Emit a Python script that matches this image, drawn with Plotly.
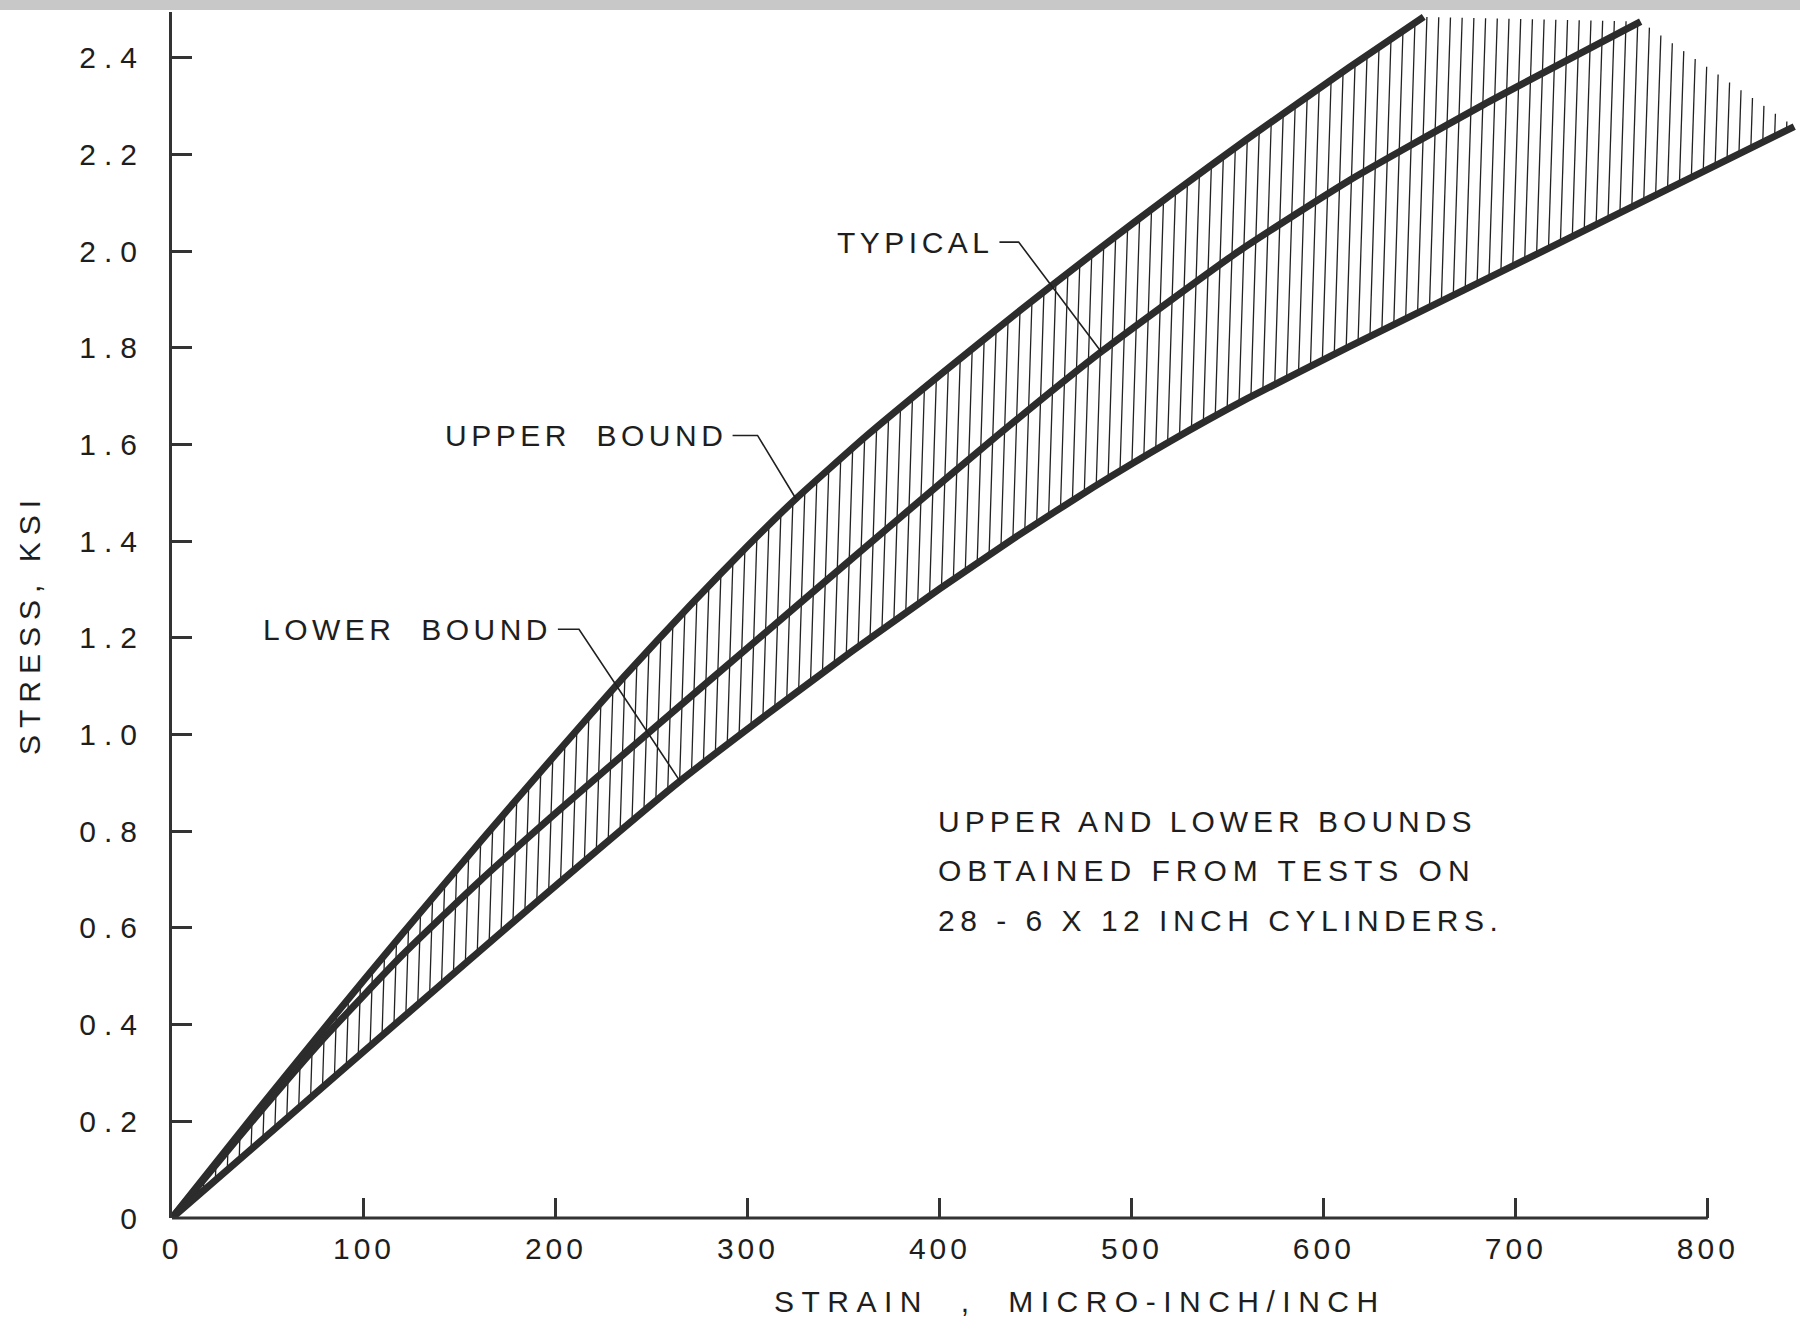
import numpy as np
import plotly.graph_objects as go

# ---------------- data ----------------
upper_x = [0, 40, 80, 120, 163, 200, 235, 270, 300, 325, 362, 400, 440, 480, 520, 560, 613, 652]
upper_y = [0, 0.2, 0.396, 0.588, 0.79, 0.96, 1.118, 1.268, 1.391, 1.488, 1.619, 1.744,
           1.872, 1.996, 2.116, 2.232, 2.38, 2.485]

typical_x = [0, 40, 80, 120, 160, 200, 250, 300, 378, 430, 484, 556, 613, 683, 765]
typical_y = [0, 0.192, 0.376, 0.544, 0.696, 0.838, 1.01, 1.18, 1.445, 1.619, 1.792,
             2.001, 2.146, 2.303, 2.475]

lower_x = [0, 58, 116, 190, 264, 310, 354, 400, 440, 480, 520, 560, 613, 718, 787, 845]
lower_y = [0, 0.2, 0.4, 0.654, 0.902, 1.042, 1.172, 1.302, 1.41, 1.512, 1.607, 1.695,
           1.802, 2.008, 2.144, 2.258]

x_tick_vals = [0, 100, 200, 300, 400, 500, 600, 700, 800]
x_tick_labels = ["0", "100", "200", "300", "400", "500", "600", "700", "800"]
y_tick_vals = [0, 0.2, 0.4, 0.6, 0.8, 1.0, 1.2, 1.4, 1.6, 1.8, 2.0, 2.2, 2.4]
y_tick_labels = ["0", "0.2", "0.4", "0.6", "0.8", "1.0", "1.2", "1.4", "1.6", "1.8", "2.0", "2.2", "2.4"]

# label anchors (data coords): text right edge, text centre y, leader knee x, leader target x
typical_label = dict(text="TYPICAL", x=429, y=2.019, knee=441, target=484)
upper_label = dict(text="UPPER  BOUND", x=290, y=1.619, knee=305, target=325)
lower_label = dict(text="LOWER  BOUND", x=199, y=1.218, knee=212, target=264.6)

note_lines = ["UPPER AND LOWER BOUNDS",
              "OBTAINED FROM TESTS ON",
              "28 - 6 X 12 INCH CYLINDERS."]
note_spacing = [5, 6, 5.5]

# ---------------- style ----------------
W, H = 1800, 1320
L, R, T, B = 172, 0, 12, 102
FONT = "Liberation Sans, Arial, sans-serif"
FS = 30
INK = "#1e1e1e"
CURVE = "#2c2c2c"


def spaced(s, ls):
    return f'<span style="letter-spacing:{ls}px">{s}</span>'


def paper_x(px):
    return (px - L) / (W - L - R)


def paper_y(py):
    return (H - B - py) / (H - T - B)


fig = go.Figure()

# ---------------- hatching between upper and lower bounds ----------------
top_env_x = upper_x + [typical_x[-1], lower_x[-1]]
top_env_y = upper_y + [typical_y[-1], lower_y[-1]]
hatch_step = 6.2
tilt = 0.032 * (483.4 / 1.92)   # slight lean of the pen strokes
hx, hy = [], []
for xb in np.arange(4.0, lower_x[-1] - 2, hatch_step):
    yb = float(np.interp(xb, lower_x, lower_y))
    yt0 = float(np.interp(xb, top_env_x, top_env_y))
    xt = xb + tilt * (yt0 - yb)
    yt = float(np.interp(xt, top_env_x, top_env_y))
    if yt - yb < 0.01:
        continue
    hx += [xb, xt, None]
    hy += [yb, yt, None]

fig.add_trace(go.Scatter(x=hx, y=hy, mode="lines",
                         line=dict(color="#222222", width=1.3),
                         hoverinfo="skip", showlegend=False))

# ---------------- the three curves ----------------
for xs, ys, name in [(upper_x, upper_y, "Upper bound"),
                     (typical_x, typical_y, "Typical"),
                     (lower_x, lower_y, "Lower bound")]:
    fig.add_trace(go.Scatter(x=xs, y=ys, mode="lines", name=name,
                             line=dict(color=CURVE, width=7, shape="spline", smoothing=0.5),
                             showlegend=False))

# ---------------- leader lines and labels ----------------
for lab, cx, cy in [(typical_label, typical_x, typical_y),
                    (upper_label, upper_x, upper_y),
                    (lower_label, lower_x, lower_y)]:
    ty = float(np.interp(lab["target"], cx, cy))
    fig.add_trace(go.Scatter(x=[lab["x"] + 2, lab["knee"], lab["target"]],
                             y=[lab["y"], lab["y"], ty], mode="lines",
                             line=dict(color="#202020", width=1.6),
                             hoverinfo="skip", showlegend=False))
    fig.add_annotation(x=lab["x"], y=lab["y"], xref="x", yref="y",
                       text=spaced(lab["text"], 4.5), showarrow=False,
                       xanchor="right", yanchor="middle",
                       font=dict(family=FONT, size=FS, color=INK))

# note block
note_px_y = [822, 870, 920]
for line, py, ls in zip(note_lines, note_px_y, note_spacing):
    fig.add_annotation(x=paper_x(936), y=paper_y(py), xref="paper", yref="paper",
                       text=spaced(line, ls), showarrow=False,
                       xanchor="left", yanchor="middle",
                       font=dict(family=FONT, size=FS, color=INK))

# axis titles
fig.add_annotation(x=paper_x(1080), y=paper_y(1301), xref="paper", yref="paper",
                   text=spaced("STRAIN  ,  MICRO-INCH/INCH", 7.5), showarrow=False,
                   xanchor="center", yanchor="middle",
                   font=dict(family=FONT, size=FS, color=INK))
fig.add_annotation(x=paper_x(29), y=paper_y(624), xref="paper", yref="paper",
                   text=spaced("STRESS, KSI", 7), showarrow=False, textangle=-90,
                   xanchor="center", yanchor="middle",
                   font=dict(family=FONT, size=FS, color=INK))

# x axis baseline (ends at 800 like the original)
fig.add_shape(type="line", xref="x", yref="paper",
              x0=x_tick_vals[0], x1=x_tick_vals[-1], y0=0, y1=0,
              line=dict(color="#333333", width=3))

# scanner edge strip along the top
fig.add_shape(type="rect", xref="paper", yref="paper", x0=paper_x(0), x1=paper_x(W),
              y0=paper_y(10), y1=paper_y(-2), fillcolor="#c8c8c8", line=dict(width=0),
              layer="below")

fig.update_layout(
    width=W, height=H,
    margin=dict(l=L, r=R, t=T, b=B, pad=0),
    paper_bgcolor="white", plot_bgcolor="white",
    showlegend=False,
    xaxis=dict(range=[0, 848], showgrid=False, zeroline=False, showline=False,
               tickmode="array", tickvals=x_tick_vals,
               ticktext=[spaced(t, 4) for t in x_tick_labels],
               ticks="inside", ticklen=20, tickwidth=3, tickcolor="#333333",
               ticklabelstandoff=10,
               tickfont=dict(family=FONT, size=FS, color=INK)),
    yaxis=dict(range=[0, 2.495], showgrid=False, zeroline=False,
               showline=True, linecolor="#333333", linewidth=3,
               tickmode="array", tickvals=y_tick_vals,
               ticktext=[spaced(t, 8) for t in y_tick_labels],
               ticks="inside", ticklen=20, tickwidth=3, tickcolor="#333333",
               ticklabelstandoff=18,
               tickfont=dict(family=FONT, size=FS, color=INK)),
)

fig.write_html("out.html", config={"displayModeBar": False},
               post_script="document.body.style.margin='0';")
